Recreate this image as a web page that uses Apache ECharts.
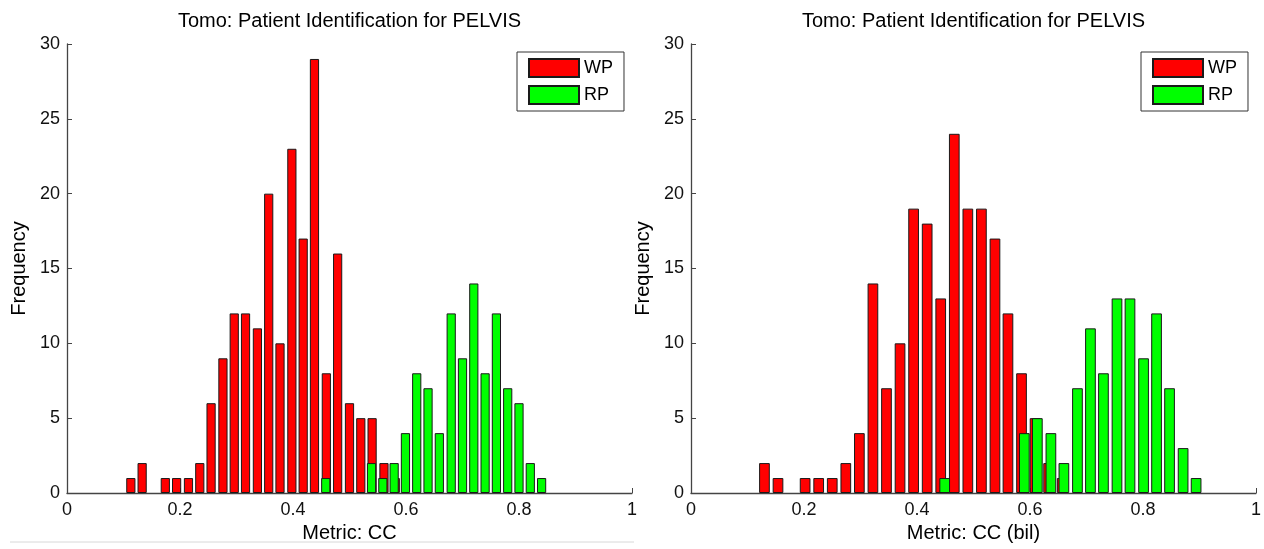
<!DOCTYPE html>
<html>
<head>
<meta charset="utf-8">
<script src="https://cdn.jsdelivr.net/npm/echarts@6/dist/echarts.min.js"></script>
<style>
html,body{margin:0;padding:0;background:#fff;}
#chart{width:1264px;height:549px;}
</style>
</head>
<body>
<div id="chart"></div>
<script>
// ---- Data ----
var titleText = 'Tomo: Patient Identification for PELVIS';
var xLabelLeft = 'Metric: CC';
var xLabelRight = 'Metric: CC (bil)';
var yLabel = 'Frequency';
var seriesNames = ['WP', 'RP'];

// Left panel: Metric CC
var leftWPCenters = [0.113,0.133,0.153,0.174,0.194,0.215,0.235,0.255,0.276,0.296,0.316,0.337,0.357,0.377,0.398,0.418,0.438,0.459,0.479,0.500,0.520,0.540,0.561,0.581];
var leftWPCounts  = [1,2,0,1,1,1,2,6,9,12,12,11,20,10,23,17,29,8,16,6,5,5,2,1];
var leftRPCenters = [0.458,0.478,0.499,0.519,0.539,0.559,0.579,0.599,0.619,0.639,0.659,0.680,0.700,0.720,0.740,0.760,0.780,0.800,0.820,0.840];
var leftRPCounts  = [1,0,0,0,2,1,2,4,8,7,4,12,9,14,8,12,7,6,2,1];

// Right panel: Metric CC (bil)
var rightWPCenters = [0.130,0.154,0.178,0.202,0.226,0.250,0.274,0.298,0.322,0.346,0.370,0.394,0.418,0.442,0.466,0.490,0.514,0.538,0.561,0.585,0.609,0.633,0.657];
var rightWPCounts  = [2,1,0,1,1,1,2,4,14,7,10,19,18,13,24,19,19,17,12,8,5,2,1];
var rightRPCenters = [0.449,0.473,0.496,0.520,0.543,0.566,0.590,0.613,0.637,0.660,0.684,0.707,0.730,0.754,0.777,0.801,0.824,0.847,0.871,0.894];
var rightRPCounts  = [1,0,0,0,0,0,4,5,4,2,7,11,8,13,13,9,12,7,3,1];

var xTicks = [0, 0.2, 0.4, 0.6, 0.8, 1];
var yTicks = [0, 5, 10, 15, 20, 25, 30];

// ---- Chart ----
var FONT = '"Liberation Sans", Arial, Helvetica, sans-serif';
function pairs(cs, vs) {
  var out = [];
  for (var i = 0; i < cs.length; i++) if (vs[i] > 0) out.push([cs[i], vs[i]]);
  return out;
}
var RED = '#ff0000', GREEN = '#00ff00', EDGE = '#1a1a1a';

var grids = [
  {left: 67, width: 565, top: 44, height: 449},
  {left: 691, width: 565, top: 44, height: 449}
];

function xAxis(idx, name) {
  return {
    gridIndex: idx, type: 'value', min: xTicks[0], max: xTicks[xTicks.length-1], interval: 0.2,
    name: name, nameLocation: 'middle', nameGap: 30,
    nameTextStyle: {fontFamily: FONT, fontSize: 20, color: '#000'},
    axisLine: {show: true, onZero: false, lineStyle: {color: '#444', width: 1.3}},
    axisTick: {show: true, inside: true, length: 5, lineStyle: {color: '#444'}},
    axisLabel: {fontFamily: FONT, fontSize: 18, color: '#111', margin: 8},
    splitLine: {show: false}
  };
}
function yAxis(idx) {
  return {
    gridIndex: idx, type: 'value', min: yTicks[0], max: yTicks[yTicks.length-1], interval: 5,
    name: yLabel, nameLocation: 'middle', nameGap: 38, nameRotate: 90,
    nameTextStyle: {fontFamily: FONT, fontSize: 20, color: '#000'},
    axisLine: {show: true, lineStyle: {color: '#444', width: 1.3}},
    axisTick: {show: true, inside: true, length: 5, lineStyle: {color: '#444'}},
    axisLabel: {fontFamily: FONT, fontSize: 18, color: '#111', margin: 7},
    splitLine: {show: false}
  };
}
function barSeries(name, idx, data, color, w) {
  return {
    name: name, type: 'bar', xAxisIndex: idx, yAxisIndex: idx,
    data: data, barWidth: w, barGap: '-100%',
    itemStyle: {color: color, borderColor: EDGE, borderWidth: 1},
    emphasis: {disabled: true}, animation: false
  };
}
function legend(left) {
  return {
    data: seriesNames, orient: 'vertical', left: left, top: 52,
    icon: 'rect',
    itemWidth: 50, itemHeight: 18, itemGap: 7,
    padding: [6, 11, 6, 11],
    borderColor: '#333', borderWidth: 1, backgroundColor: '#fff',
    textStyle: {fontFamily: FONT, fontSize: 18, color: '#000'},
    selectedMode: false
  };
}

var option = {
  animation: false,
  backgroundColor: '#fff',
  title: [
    {text: titleText, left: 349.5, top: 11, textAlign: 'center', padding: 0,
     textStyle: {fontFamily: FONT, fontSize: 20, fontWeight: 'normal', color: '#000'}},
    {text: titleText, left: 973.5, top: 11, textAlign: 'center', padding: 0,
     textStyle: {fontFamily: FONT, fontSize: 20, fontWeight: 'normal', color: '#000'}}
  ],
  legend: [legend(517), legend(1141)],
  grid: grids,
  xAxis: [xAxis(0, xLabelLeft), xAxis(1, xLabelRight)],
  yAxis: [yAxis(0), yAxis(1)],
  series: [
    barSeries('WP', 0, pairs(leftWPCenters, leftWPCounts), RED, 9.2),
    barSeries('RP', 0, pairs(leftRPCenters, leftRPCounts), GREEN, 9.2),
    barSeries('WP', 1, pairs(rightWPCenters, rightWPCounts), RED, 10.7),
    barSeries('RP', 1, pairs(rightRPCenters, rightRPCounts), GREEN, 10.7)
  ],
  graphic: [
    {type: 'line', shape: {x1: 10, y1: 542, x2: 634, y2: 542}, style: {stroke: '#d8d8d8', lineWidth: 1}, silent: true}
  ]
};

var chart = echarts.init(document.getElementById('chart'), null, {renderer: 'canvas'});
chart.setOption(option);
</script>
</body>
</html>
